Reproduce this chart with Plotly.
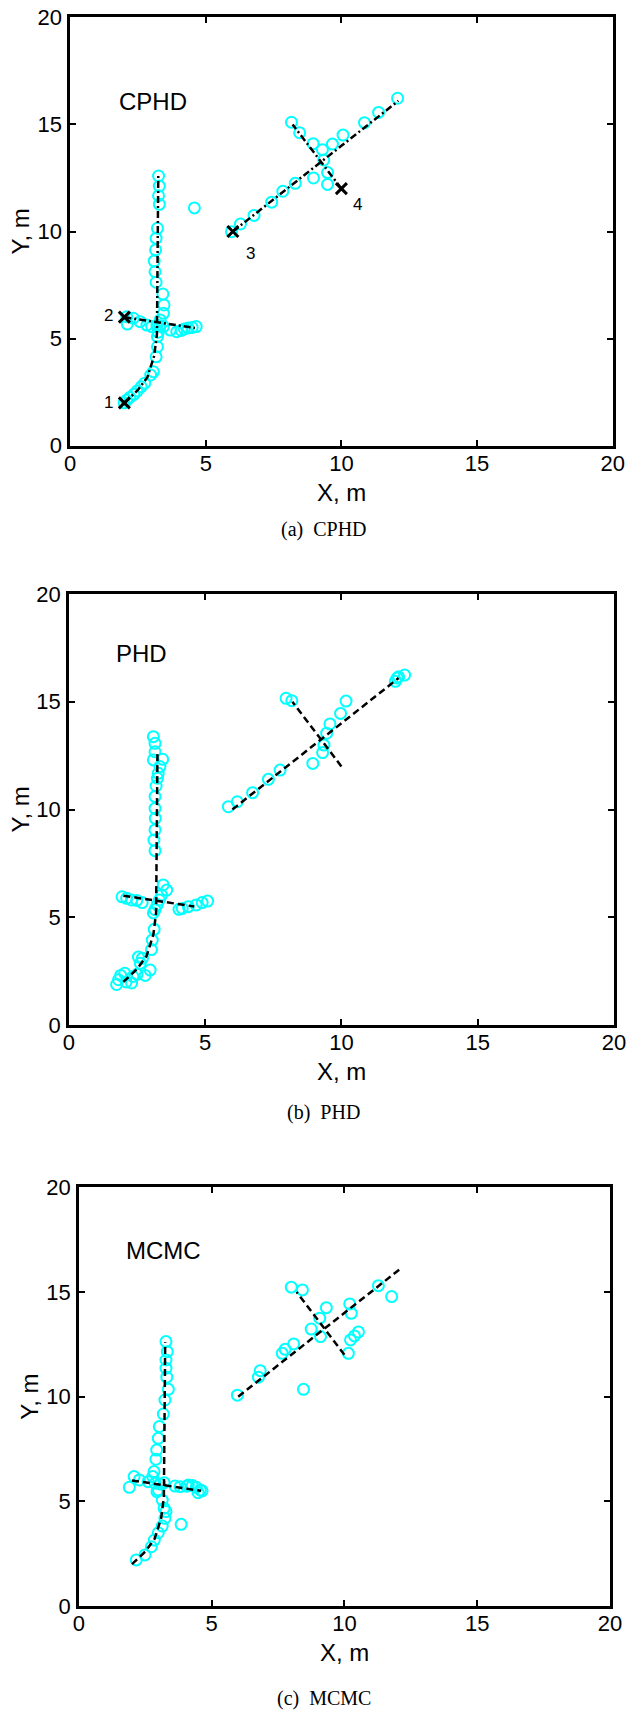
import plotly.graph_objects as go

# ---------------- data ----------------
# ground-truth tracks (black dashed)
t1_x = [2.0, 2.5, 2.85, 3.1, 3.2, 3.25]
t1_y = [2.0, 2.6, 3.2, 4.2, 5.2, 12.6]
t2_x = [2.0, 4.6]
t2_y = [6.0, 5.5]
t3_x = [6.0, 12.1]
t3_y = [10.0, 16.1]
t4_x = [10.0, 8.2]
t4_y = [12.0, 15.0]

# target start points (panel a)
start_x = [2.0, 2.0, 6.0, 10.0]
start_y = [2.0, 6.0, 10.0, 12.0]
start_labels = ["1", "2", "3", "4"]
label_x = [1.4, 1.4, 6.64, 10.6]
label_y = [2.0, 6.07, 8.98, 11.28]

# CPHD estimates
cphd_x = [1.99, 2.08, 2.2, 2.35, 2.47, 2.62, 2.75, 2.97, 3.07, 3.17, 3.22, 3.22, 3.25, 3.3, 3.32,
          3.44, 3.46, 3.42, 3.17, 3.13, 3.1, 3.15, 3.17, 3.22, 3.29, 3.26, 3.29, 3.26,
          2.09, 2.11, 2.33, 2.58, 2.83, 3.01, 3.2, 3.44, 3.69, 3.93, 4.1, 4.21, 4.35, 4.5, 4.65,
          4.58,
          5.95, 6.28, 6.78, 7.43, 7.84, 8.3, 9.35, 9.67, 10.06, 10.85, 11.37, 12.07,
          8.16, 8.46, 8.96, 9.3, 9.49, 9.49, 8.97]
cphd_y = [2.0, 2.12, 2.25, 2.4, 2.55, 2.75, 2.92, 3.3, 3.45, 4.15, 4.62, 5.09, 5.3, 5.6, 5.87,
          6.18, 6.57, 7.08, 7.63, 8.12, 8.62, 9.14, 9.68, 10.15, 11.27, 11.67, 12.12, 12.59,
          6.02, 5.68, 5.95, 5.79, 5.63, 5.56, 5.62, 5.56, 5.4, 5.32, 5.38, 5.45, 5.5, 5.52, 5.56,
          11.1,
          9.99, 10.35, 10.75, 11.37, 11.88, 12.25, 13.34, 14.08, 14.5, 15.08, 15.56, 16.22,
          15.1, 14.61, 14.1, 13.82, 12.75, 12.2, 12.5]

# PHD estimates
phd_x = [1.75, 1.82, 1.9, 2.05, 2.1, 2.3, 2.35, 2.5, 2.8, 2.98, 2.62, 2.55, 2.7, 3.03, 3.06, 3.13,
         3.1, 3.16, 3.24, 3.32, 3.4, 3.59, 3.46,
         3.16, 3.12, 3.16, 3.17, 3.16, 3.16, 3.2, 3.25, 3.28, 3.34, 3.44, 3.1, 3.16, 3.16, 3.1,
         1.95, 2.12, 2.3, 2.49, 2.69, 4.04, 4.16, 4.38, 4.67, 4.89, 5.09,
         5.85, 6.18, 6.74, 7.32, 7.75, 9.31, 9.36, 9.46, 9.58, 9.97, 10.17, 11.98, 12.05, 12.1, 12.32,
         7.97, 8.18, 8.95]
phd_y = [1.88, 2.1, 2.3, 2.4, 2.0, 1.95, 2.25, 2.35, 2.3, 2.55, 2.86, 3.15, 3.1, 3.5, 3.94, 4.44,
         5.2, 5.35, 5.57, 5.8, 6.03, 6.26, 6.5,
         8.09, 8.58, 9.05, 9.59, 10.05, 10.6, 11.09, 11.45, 11.68, 11.99, 12.33, 12.3, 12.68, 13.07, 13.38,
         5.95, 5.88, 5.8, 5.78, 5.68, 5.37, 5.41, 5.49, 5.57, 5.68, 5.75,
         10.13, 10.36, 10.78, 11.4, 11.83, 12.64, 12.99, 13.54, 13.97, 14.46, 15.03, 15.95, 16.1, 16.16, 16.24,
         15.16, 15.05, 12.14]

# MCMC estimates
mcmc_x = [2.16, 2.49, 2.73, 2.84, 2.99, 3.14, 3.24, 3.28, 3.21, 3.14, 2.99,
          2.78, 2.83, 2.9, 2.93, 2.99, 3.03, 3.18, 3.24, 3.37, 3.31, 3.28, 3.28, 3.33, 3.28,
          1.9, 2.08, 2.28, 2.61, 2.87, 3.05, 3.21, 2.94, 3.62, 3.81, 4.06, 4.12, 4.27, 4.42, 4.57, 4.49, 4.64,
          3.85,
          5.97, 6.76, 6.83, 7.66, 7.77, 8.09, 8.46, 8.0, 8.42, 8.75, 9.07, 9.1, 9.32, 10.2, 10.26,
          10.15, 10.23, 10.38, 10.53, 11.28, 11.78]
mcmc_y = [2.2, 2.44, 2.83, 3.15, 3.5, 3.82, 4.19, 4.51, 4.67, 5.06, 5.54,
          6.18, 6.42, 7.01, 7.45, 8.01, 8.57, 9.17, 9.84, 10.35, 10.93, 11.36, 11.75, 12.15, 12.63,
          5.67, 6.18, 6.02, 5.94, 5.86, 5.83, 5.89, 5.46, 5.73, 5.7, 5.72, 5.78, 5.75, 5.67, 5.54, 5.41, 5.5,
          3.9,
          10.07, 10.93, 11.24, 12.07, 12.26, 12.52, 10.35, 15.23, 15.1, 13.23, 13.75, 12.87, 14.25, 14.43, 13.98,
          12.07, 12.71, 12.9, 13.09, 15.3, 14.78]

panel_names = ["CPHD", "PHD", "MCMC"]
captions = ["(a)\u00a0\u00a0CPHD", "(b)\u00a0\u00a0PHD", "(c)\u00a0\u00a0MCMC"]
name_pos_x = [1.74, 1.66, 1.70]
name_pos_y = [16.06, 17.25, 17.0]
ticks = [0, 5, 10, 15, 20]

est_x = [cphd_x, phd_x, mcmc_x]
est_y = [cphd_y, phd_y, mcmc_y]

# ---------------- layout geometry (pixels) ----------------
W, H = 628, 1710
boxes = [  # left, right, top, bottom in page pixels
    (70.1, 612.7, 17.3, 445.7),
    (68.9, 613.9, 594.0, 1025.0),
    (78.9, 609.9, 1187.3, 1606.0),
]
caption_y_px = [530.0, 1112.7, 1698.5]
caption_x_px = 323.6
ylab_x_px = [20.0, 20.0, 30.0]
xlab_top_gap_px = 31.0
dash_styles = ["7px,3px,2px,3px", "7px,4px", "7px,4px"]

FAM = "Liberation Sans, Arial, Helvetica, sans-serif"
AX_FONT = dict(family=FAM, size=22, color="black")
CYAN = "#00ffff"

fig = go.Figure()
layout = dict(width=W, height=H, margin=dict(l=0, r=0, t=0, b=0, autoexpand=False),
              paper_bgcolor="white", plot_bgcolor="white", showlegend=False,
              template="none")
annotations = []

for i in range(3):
    sfx = "" if i == 0 else str(i + 1)
    xa, ya = "x" + sfx, "y" + sfx
    l, r, t, b = boxes[i]
    # estimates
    fig.add_trace(go.Scatter(x=est_x[i], y=est_y[i], mode="markers", xaxis=xa, yaxis=ya,
                             marker=dict(symbol="circle-open", size=11, color=CYAN,
                                         line=dict(width=2, color=CYAN)),
                             hoverinfo="skip"))
    # ground truth
    for tx, ty in [(t1_x, t1_y), (t2_x, t2_y), (t3_x, t3_y), (t4_x, t4_y)]:
        fig.add_trace(go.Scatter(x=tx, y=ty, mode="lines", xaxis=xa, yaxis=ya,
                                 line=dict(color="black", width=2.5, dash=dash_styles[i]),
                                 hoverinfo="skip"))
    if i == 0:
        fig.add_trace(go.Scatter(x=start_x, y=start_y, mode="markers", xaxis=xa, yaxis=ya,
                                 marker=dict(symbol="x-thin-open", size=11, color="black",
                                             line=dict(width=3, color="black")),
                                 hoverinfo="skip"))
        for lx, ly, lt in zip(label_x, label_y, start_labels):
            annotations.append(dict(x=lx, y=ly, xref=xa, yref=ya, text=lt, showarrow=False,
                                    font=dict(family=FAM, size=17, color="black"),
                                    xanchor="center", yanchor="middle"))
    annotations.append(dict(x=name_pos_x[i], y=name_pos_y[i], xref=xa, yref=ya,
                            text=panel_names[i], showarrow=False,
                            font=dict(family=FAM, size=24, color="black"),
                            xanchor="left", yanchor="middle"))
    # axis titles
    annotations.append(dict(x=(l + r) / 2 / W, y=1 - (b + xlab_top_gap_px) / H, xref="paper", yref="paper",
                            text="X, m", showarrow=False, font=dict(family=FAM, size=24, color="black"),
                            xanchor="center", yanchor="top"))
    annotations.append(dict(x=ylab_x_px[i] / W, y=1 - (t + b) / 2 / H, xref="paper", yref="paper",
                            text="Y, m", showarrow=False, textangle=-90,
                            font=dict(family=FAM, size=24, color="black"),
                            xanchor="center", yanchor="middle"))
    # caption
    annotations.append(dict(x=caption_x_px / W, y=1 - caption_y_px[i] / H, xref="paper", yref="paper",
                            text=captions[i], showarrow=False,
                            font=dict(family="Liberation Serif, Times New Roman, serif", size=20, color="black"),
                            xanchor="center", yanchor="middle"))
    axis_common = dict(range=[0, 20], tickvals=ticks, ticktext=[str(v) for v in ticks],
                       ticks="inside", ticklen=6, tickwidth=2, tickcolor="black",
                       showline=True, linewidth=2.5, linecolor="black", mirror="ticks",
                       showgrid=False, zeroline=False, tickfont=AX_FONT, automargin=False)
    layout["xaxis" + sfx] = dict(axis_common, domain=[l / W, r / W], anchor=ya, ticklabelstandoff=-4)
    layout["yaxis" + sfx] = dict(axis_common, domain=[1 - b / H, 1 - t / H], anchor=xa, ticklabelstandoff=1)

layout["annotations"] = annotations
fig.update_layout(**layout)
fig.write_html("out.html")
